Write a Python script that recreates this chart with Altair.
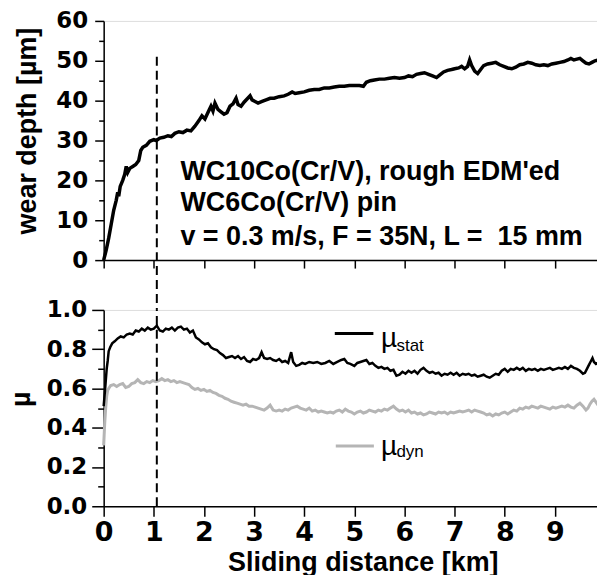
import altair as alt
import pandas as pd

# ---------------- data ----------------
wear_x = [0.00, 0.05, 0.10, 0.15, 0.20, 0.25, 0.28, 0.30, 0.33, 0.38, 0.42, 0.45, 0.48, 0.52,
          0.58, 0.64, 0.70, 0.74, 0.78, 0.85, 0.92, 1.00, 1.05, 1.12, 1.20, 1.28, 1.35, 1.42,
          1.50, 1.58, 1.66, 1.74, 1.82, 1.90, 1.96, 2.02, 2.08, 2.14, 2.18, 2.22, 2.28, 2.34,
          2.40, 2.46, 2.52, 2.58, 2.64, 2.68, 2.74, 2.80, 2.86, 2.92, 2.96, 3.02, 3.08, 3.16,
          3.24, 3.32, 3.40, 3.50, 3.60, 3.68, 3.76, 3.82, 3.90, 4.00, 4.10, 4.20, 4.30, 4.40,
          4.50, 4.60, 4.70, 4.80, 4.90, 5.00, 5.10, 5.18, 5.24, 5.32, 5.40, 5.50, 5.60, 5.70,
          5.80, 5.90, 6.00, 6.08, 6.16, 6.24, 6.32, 6.40, 6.48, 6.56, 6.64, 6.70, 6.78, 6.86,
          6.94, 7.00, 7.08, 7.14, 7.20, 7.26, 7.30, 7.34, 7.40, 7.46, 7.52, 7.58, 7.66, 7.74,
          7.82, 7.90, 7.98, 8.06, 8.14, 8.22, 8.30, 8.38, 8.46, 8.54, 8.62, 8.70, 8.78, 8.86,
          8.94, 9.02, 9.10, 9.18, 9.26, 9.32, 9.38, 9.44, 9.50, 9.56, 9.62, 9.68, 9.74, 9.80,
          9.86, 9.90]
wear_y = [0.0, 2.5, 5.5, 9.0, 12.5, 15.0, 17.0, 16.0, 18.5, 20.0, 21.5, 23.5, 22.0, 23.0,
          23.5, 24.0, 25.0, 27.5, 28.3, 28.8, 29.8, 30.2, 30.0, 30.6, 30.8, 31.2, 31.0, 31.8,
          32.2, 32.0, 32.6, 32.4, 33.6, 35.0, 36.2, 35.4, 37.0, 38.6, 37.4, 39.4, 37.8, 37.2,
          36.6, 37.0, 38.6, 39.2, 40.6, 39.0, 38.6, 39.6, 40.4, 41.2, 40.2, 39.8, 39.4, 39.8,
          40.2, 40.6, 40.6, 41.0, 41.2, 41.6, 42.2, 41.8, 42.0, 42.2, 42.6, 42.8, 42.8, 43.2,
          43.2, 43.4, 43.6, 43.6, 43.8, 43.8, 43.8, 43.6, 44.6, 45.0, 45.2, 45.4, 45.4, 45.6,
          45.8, 45.6, 45.8, 46.2, 46.0, 46.6, 46.8, 47.0, 46.6, 46.2, 45.8, 46.4, 47.2, 47.6,
          47.8, 48.0, 48.2, 48.6, 48.0, 48.6, 50.2, 48.8, 47.4, 46.8, 47.8, 48.8, 49.2, 49.4,
          49.6, 49.0, 48.6, 48.2, 48.0, 48.4, 49.0, 49.2, 49.6, 49.4, 49.0, 48.8, 49.0, 48.8,
          49.2, 49.4, 49.6, 49.8, 50.2, 50.6, 50.2, 50.4, 50.6, 50.0, 49.4, 49.2, 49.6, 50.0,
          50.2, 49.8]

stat_x = [0.00, 0.03, 0.06, 0.08, 0.10, 0.13, 0.17, 0.22, 0.28, 0.34, 0.40, 0.46, 0.52, 0.58,
          0.64, 0.70, 0.76, 0.82, 0.88, 0.94, 1.00, 1.06, 1.12, 1.18, 1.24, 1.30, 1.36, 1.42,
          1.48, 1.54, 1.60, 1.66, 1.72, 1.78, 1.84, 1.90, 1.96, 2.02, 2.08, 2.14, 2.20, 2.26,
          2.32, 2.38, 2.44, 2.50, 2.56, 2.62, 2.68, 2.74, 2.80, 2.86, 2.92, 2.98, 3.04, 3.10,
          3.15, 3.20, 3.26, 3.32, 3.38, 3.44, 3.50, 3.56, 3.62, 3.68, 3.74, 3.78, 3.84, 3.90,
          3.96, 4.02, 4.10, 4.18, 4.26, 4.34, 4.42, 4.50, 4.58, 4.66, 4.74, 4.80, 4.86, 4.92,
          5.00, 5.06, 5.12, 5.18, 5.24, 5.30, 5.36, 5.42, 5.48, 5.54, 5.60, 5.66, 5.72, 5.78,
          5.84, 5.90, 5.96, 6.02, 6.08, 6.14, 6.20, 6.26, 6.32, 6.38, 6.44, 6.50, 6.56, 6.62,
          6.68, 6.74, 6.80, 6.86, 6.92, 6.98, 7.04, 7.10, 7.16, 7.22, 7.28, 7.34, 7.40, 7.46,
          7.52, 7.58, 7.64, 7.70, 7.76, 7.82, 7.88, 7.94, 8.00, 8.06, 8.12, 8.18, 8.24, 8.30,
          8.36, 8.42, 8.48, 8.54, 8.60, 8.66, 8.72, 8.78, 8.84, 8.90, 8.96, 9.02, 9.08, 9.14,
          9.20, 9.26, 9.32, 9.38, 9.44, 9.50, 9.56, 9.60, 9.64, 9.68, 9.72, 9.75, 9.78, 9.82,
          9.86, 9.90]
stat_y = [0.51, 0.60, 0.70, 0.74, 0.79, 0.81, 0.83, 0.84, 0.855, 0.865, 0.86, 0.875, 0.88, 0.875,
          0.895, 0.89, 0.905, 0.895, 0.91, 0.90, 0.905, 0.92, 0.895, 0.89, 0.905, 0.90, 0.91, 0.895,
          0.91, 0.915, 0.90, 0.905, 0.885, 0.895, 0.86, 0.85, 0.835, 0.825, 0.83, 0.81, 0.80, 0.795,
          0.78, 0.77, 0.755, 0.76, 0.765, 0.755, 0.765, 0.75, 0.76, 0.74, 0.735, 0.75, 0.745, 0.755,
          0.785, 0.755, 0.75, 0.755, 0.745, 0.74, 0.75, 0.735, 0.74, 0.73, 0.785, 0.735, 0.715, 0.72,
          0.73, 0.725, 0.735, 0.73, 0.735, 0.725, 0.73, 0.74, 0.725, 0.735, 0.745, 0.75, 0.73, 0.725,
          0.715, 0.73, 0.735, 0.74, 0.745, 0.725, 0.73, 0.715, 0.705, 0.71, 0.70, 0.705, 0.69, 0.695,
          0.665, 0.67, 0.685, 0.675, 0.69, 0.68, 0.69, 0.675, 0.695, 0.705, 0.69, 0.68, 0.685, 0.675,
          0.68, 0.665, 0.675, 0.67, 0.68, 0.67, 0.68, 0.665, 0.675, 0.67, 0.675, 0.665, 0.67, 0.66,
          0.665, 0.67, 0.66, 0.655, 0.665, 0.675, 0.67, 0.69, 0.70, 0.685, 0.70, 0.695, 0.705, 0.695,
          0.705, 0.69, 0.70, 0.695, 0.70, 0.69, 0.70, 0.695, 0.70, 0.705, 0.695, 0.70, 0.705, 0.70,
          0.71, 0.70, 0.715, 0.705, 0.70, 0.69, 0.675, 0.68, 0.70, 0.72, 0.74, 0.755, 0.735, 0.725,
          0.73, 0.715]

dyn_x = [0.00, 0.02, 0.04, 0.06, 0.08, 0.10, 0.14, 0.20, 0.26, 0.32, 0.38, 0.44, 0.50, 0.56,
         0.62, 0.68, 0.74, 0.80, 0.86, 0.92, 0.98, 1.04, 1.10, 1.16, 1.22, 1.28, 1.34, 1.40,
         1.46, 1.52, 1.58, 1.64, 1.70, 1.76, 1.82, 1.88, 1.94, 2.00, 2.06, 2.12, 2.18, 2.24,
         2.30, 2.36, 2.42, 2.48, 2.54, 2.60, 2.66, 2.72, 2.78, 2.84, 2.90, 2.96, 3.02, 3.08,
         3.14, 3.20, 3.26, 3.32, 3.38, 3.44, 3.50, 3.56, 3.62, 3.68, 3.74, 3.80, 3.86, 3.92,
         3.98, 4.04, 4.10, 4.16, 4.22, 4.28, 4.34, 4.40, 4.46, 4.52, 4.58, 4.64, 4.70, 4.76,
         4.82, 4.88, 4.94, 5.00, 5.06, 5.12, 5.18, 5.24, 5.30, 5.36, 5.42, 5.48, 5.54, 5.60,
         5.66, 5.72, 5.78, 5.84, 5.90, 5.96, 6.02, 6.08, 6.14, 6.20, 6.26, 6.32, 6.38, 6.44,
         6.50, 6.56, 6.62, 6.68, 6.74, 6.80, 6.86, 6.92, 6.98, 7.04, 7.10, 7.16, 7.22, 7.28,
         7.34, 7.40, 7.46, 7.52, 7.58, 7.64, 7.70, 7.76, 7.82, 7.88, 7.94, 8.00, 8.06, 8.12,
         8.18, 8.24, 8.30, 8.36, 8.42, 8.48, 8.54, 8.60, 8.66, 8.72, 8.78, 8.84, 8.90, 8.96,
         9.02, 9.08, 9.14, 9.20, 9.26, 9.32, 9.38, 9.44, 9.50, 9.56, 9.62, 9.66, 9.70, 9.74,
         9.78, 9.82, 9.86, 9.90]
dyn_y = [0.31, 0.42, 0.50, 0.56, 0.59, 0.60, 0.615, 0.62, 0.61, 0.62, 0.625, 0.605, 0.61, 0.625,
         0.63, 0.645, 0.63, 0.625, 0.635, 0.63, 0.64, 0.635, 0.64, 0.65, 0.64, 0.645, 0.635, 0.64,
         0.63, 0.635, 0.63, 0.625, 0.62, 0.605, 0.595, 0.60, 0.59, 0.595, 0.585, 0.59, 0.58, 0.575,
         0.565, 0.56, 0.55, 0.545, 0.535, 0.53, 0.525, 0.52, 0.515, 0.52, 0.51, 0.51, 0.505, 0.50,
         0.495, 0.49, 0.50, 0.515, 0.49, 0.485, 0.49, 0.485, 0.495, 0.49, 0.50, 0.505, 0.51, 0.50,
         0.495, 0.49, 0.50, 0.485, 0.49, 0.48, 0.485, 0.48, 0.475, 0.48, 0.475, 0.485, 0.49, 0.48,
         0.495, 0.485, 0.48, 0.47, 0.48, 0.485, 0.475, 0.48, 0.49, 0.485, 0.48, 0.49, 0.485, 0.495,
         0.49, 0.50, 0.51, 0.495, 0.485, 0.49, 0.48, 0.49, 0.475, 0.48, 0.47, 0.475, 0.465, 0.47,
         0.48, 0.475, 0.47, 0.48, 0.475, 0.48, 0.47, 0.48, 0.475, 0.48, 0.485, 0.48, 0.485, 0.49,
         0.48, 0.49, 0.485, 0.48, 0.475, 0.465, 0.47, 0.46, 0.47, 0.465, 0.475, 0.48, 0.47, 0.48,
         0.49, 0.485, 0.50, 0.495, 0.505, 0.50, 0.51, 0.505, 0.50, 0.51, 0.505, 0.50, 0.495, 0.505,
         0.50, 0.505, 0.51, 0.505, 0.515, 0.505, 0.50, 0.515, 0.525, 0.51, 0.49, 0.50, 0.52, 0.535,
         0.545, 0.53, 0.515, 0.525]

x_ticks = [0, 1, 2, 3, 4, 5, 6, 7, 8, 9]
wear_major = [0, 10, 20, 30, 40, 50, 60]
wear_minor = [5, 15, 25, 35, 45, 55]
mu_major = [0.0, 0.2, 0.4, 0.6, 0.8, 1.0]
mu_minor = [0.1, 0.3, 0.5, 0.7, 0.9]

marker_x = [1.06]            # dashed vertical line position [km]
marker_top = [51]            # top end in the wear-depth panel
marker_gap_bottom = [-12.5]  # continues through the gap between the panels

note_lines = ["WC10Co(Cr/V), rough EDM'ed", "WC6Co(Cr/V) pin",
              "v = 0.3 m/s, F = 35N, L = \u00a015 mm"]
note_x = [1.53, 1.53, 1.53]
note_y = [20.1, 12.2, 3.8]

legend_series = ["stat", "dyn"]
legend_x1 = [4.61, 4.63]
legend_x2 = [5.38, 5.39]
legend_y = [0.88, 0.307]
legend_mu_x = [5.53, 5.53]
legend_mu_y = [0.809, 0.259]
legend_sub_x = [5.84, 5.84]
legend_sub_y = [0.79, 0.252]

# ---------------- chart ----------------
W = 498
TICK_FONT = "DejaVu Sans"
TITLE_FONT = "Liberation Sans"
GRAY = "#b5b5b5"

xscale = alt.Scale(domain=[0, 9.9], nice=False, zero=False)
wear_scale = alt.Scale(domain=[0, 60], nice=False)
mu_scale = alt.Scale(domain=[0, 1.0], nice=False)

common_axis = dict(domainColor="black", tickColor="black", domainWidth=1.5, tickWidth=1.5,
                   grid=False, labelColor="black", titleColor="black",
                   labelFont=TICK_FONT, labelFontWeight="bold", labelOverlap=False,
                   titleFont=TITLE_FONT, titleFontWeight="bold", titleFontSize=27)


def minor_axis(vals, size):
    return alt.Axis(values=vals, tickSize=size, labels=False, domain=False, title=None,
                    orient="left", tickColor="black", tickWidth=1.5, grid=False)


wear_df = pd.DataFrame({"x": wear_x, "y": wear_y})
notes_df = pd.DataFrame({"x": note_x, "y": note_y, "t": note_lines})
marker_top_df = pd.DataFrame({"x": marker_x, "y": marker_top, "y2": marker_gap_bottom})

top_line = alt.Chart(wear_df).mark_line(color="black", strokeWidth=3.5).encode(
    x=alt.X("x:Q", scale=xscale,
            axis=alt.Axis(values=x_ticks, labels=False, title=None, tickSize=8, **common_axis)),
    y=alt.Y("y:Q", scale=wear_scale,
            axis=alt.Axis(values=wear_major, tickSize=9, labelPadding=7, labelFontSize=23,
                          title="wear depth [µm]", orient="left",
                          titleX=-62, titleY=110, titleAngle=270, titleBaseline="bottom",
                          titleAlign="center", **common_axis)),
)
top_minor = alt.Chart(wear_df).mark_line(strokeOpacity=0).encode(
    x=alt.X("x:Q", scale=xscale),
    y=alt.Y("y:Q", scale=wear_scale, axis=minor_axis(wear_minor, 5)),
)

top_notes = alt.Chart(notes_df).mark_text(
    align="left", baseline="alphabetic", font=TITLE_FONT, fontWeight="bold", fontSize=27,
    color="black"
).encode(x=alt.X("x:Q", scale=xscale),
         y=alt.Y("y:Q", scale=wear_scale, axis=None), text="t:N")

top_marker = alt.Chart(marker_top_df).mark_rule(
    color="black", strokeWidth=2, strokeDash=[9, 5]
).encode(x=alt.X("x:Q", scale=xscale),
         y=alt.Y("y:Q", scale=wear_scale, axis=None), y2="y2:Q")

top = alt.layer(top_line, top_minor, top_notes, top_marker).resolve_axis(
    y="independent").properties(width=W, height=240)

stat_df = pd.DataFrame({"x": stat_x, "y": stat_y})
dyn_df = pd.DataFrame({"x": dyn_x, "y": dyn_y})
leg_df = pd.DataFrame({"s": legend_series, "x1": legend_x1, "x2": legend_x2, "y": legend_y,
                       "mx": legend_mu_x, "my": legend_mu_y, "sx": legend_sub_x, "sy": legend_sub_y})
marker_bot_df = pd.DataFrame({"x": marker_x, "y": [0.0], "y2": [1.0]})

color_scale = alt.Scale(domain=legend_series, range=["black", GRAY])

dyn_line = alt.Chart(dyn_df).mark_line(color=GRAY, strokeWidth=3).encode(
    x=alt.X("x:Q", scale=xscale,
            axis=alt.Axis(values=x_ticks, tickSize=10, labelPadding=3, labelFontSize=27,
                          labelFlush=False, title="Sliding distance [km]",
                          titleX=260, titleY=64, titleBaseline="alphabetic", titleAlign="center",
                          **common_axis)),
    y=alt.Y("y:Q", scale=mu_scale,
            axis=alt.Axis(values=mu_major, format=".1f", tickSize=12, labelPadding=5,
                          labelFontSize=23, title="µ", orient="left",
                          titleX=-68, titleY=89, titleAngle=270, titleBaseline="bottom",
                          titleAlign="center", **common_axis)),
)
dyn_minor = alt.Chart(dyn_df).mark_line(strokeOpacity=0).encode(
    x=alt.X("x:Q", scale=xscale),
    y=alt.Y("y:Q", scale=mu_scale, axis=minor_axis(mu_minor, 6)),
)
stat_line = alt.Chart(stat_df).mark_line(color="black", strokeWidth=2.5).encode(
    x=alt.X("x:Q", scale=xscale), y=alt.Y("y:Q", scale=mu_scale, axis=None))

leg_rules = alt.Chart(leg_df).mark_rule(strokeWidth=3).encode(
    x=alt.X("x1:Q", scale=xscale), x2="x2:Q",
    y=alt.Y("y:Q", scale=mu_scale, axis=None),
    color=alt.Color("s:N", scale=color_scale, legend=None),
)
leg_mu = alt.Chart(leg_df).mark_text(
    align="left", baseline="alphabetic", font=TITLE_FONT, fontSize=28, color="black", text="µ"
).encode(x=alt.X("mx:Q", scale=xscale), y=alt.Y("my:Q", scale=mu_scale, axis=None))
leg_sub = alt.Chart(leg_df).mark_text(
    align="left", baseline="alphabetic", font=TITLE_FONT, fontSize=17, color="black"
).encode(x=alt.X("sx:Q", scale=xscale), y=alt.Y("sy:Q", scale=mu_scale, axis=None), text="s:N")

bot_marker = alt.Chart(marker_bot_df).mark_rule(
    color="black", strokeWidth=2, strokeDash=[9, 5]
).encode(x=alt.X("x:Q", scale=xscale),
         y=alt.Y("y:Q", scale=mu_scale, axis=None), y2="y2:Q")

bottom = alt.layer(dyn_line, dyn_minor, stat_line, leg_rules, leg_mu, leg_sub,
                   bot_marker).resolve_axis(y="independent").properties(width=W, height=197)

chart = alt.vconcat(top, bottom, spacing=50, bounds="flush").properties(
    padding={"left": -1, "top": 0, "right": -11, "bottom": -2}
).configure_view(stroke=None).configure(background="white")

chart.save("out.html", embed_options={"renderer": "svg", "actions": False})
